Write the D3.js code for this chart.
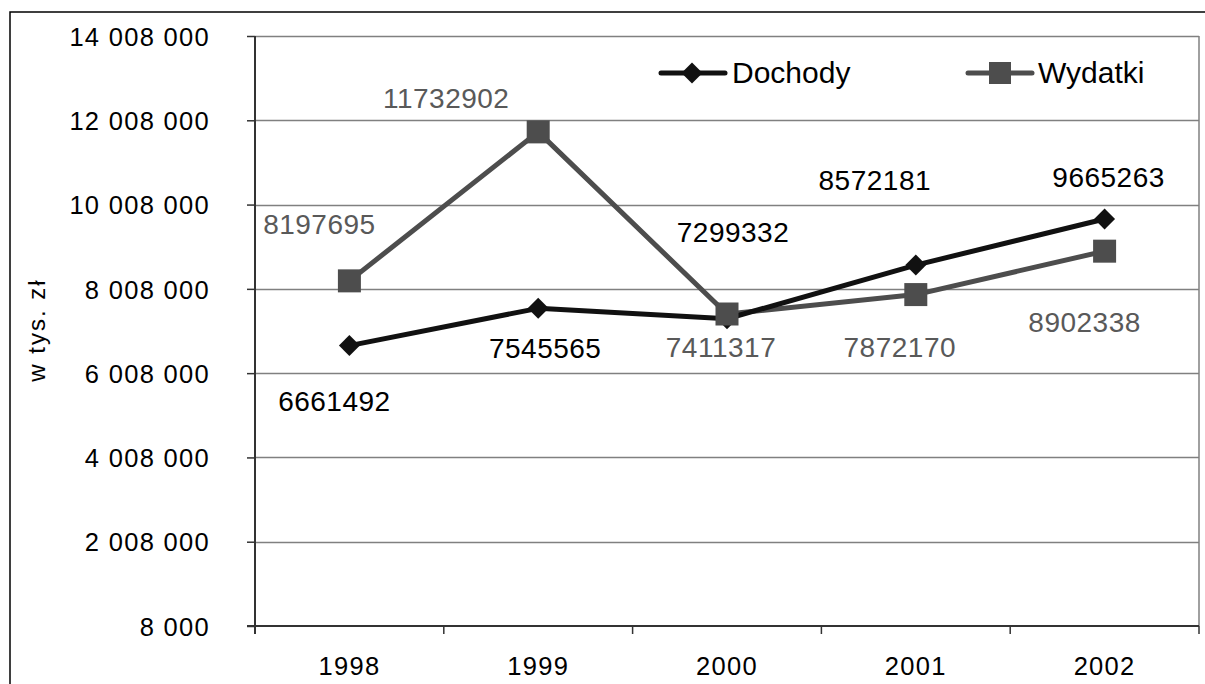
<!DOCTYPE html>
<html><head><meta charset="utf-8">
<script src="https://cdn.jsdelivr.net/npm/d3@7"></script>
<style>
body{margin:0;background:#fff;}
svg text{font-family:"Liberation Sans",Arial,sans-serif;}
</style></head>
<body><svg id="c" width="1205" height="684"></svg>
<script>
const years = ["1998","1999","2000","2001","2002"];
const dochody = [6661492, 7545565, 7299332, 8572181, 9665263];
const wydatki = [8197695, 11732902, 7411317, 7872170, 8902338];
const yTicks = [8000, 2008000, 4008000, 6008000, 8008000, 10008000, 12008000, 14008000];
const seriesNames = ["Dochody", "Wydatki"];
const yTitle = "w tys. zł";
// label placement offsets (layout only)
const dochOff = [[-15,55],[7,40],[6,-87],[-41,-85],[4,-42]];
const wydOff = [[-30,-57],[-92,-34],[-6,33],[-16,52],[-20,71]];

const svg = d3.select("#c");
const L=255, R=1199, T=36, B=626;
const x = d3.scaleBand().domain(years).range([L,R]).padding(0);
const y = d3.scaleLinear().domain([8000,14008000]).range([B,T]);
const fmt = v => d3.format(",")(v).replace(/,/g," ");

svg.append("rect").attr("x",10).attr("y",12).attr("width",1200).attr("height",680)
  .attr("fill","none").attr("stroke","#000").attr("stroke-width",1.5);

// gridlines
svg.append("g").selectAll("line").data(yTicks.slice(1)).join("line")
  .attr("x1",L).attr("x2",R).attr("y1",d=>Math.round(y(d))+0.5).attr("y2",d=>Math.round(y(d))+0.5)
  .attr("stroke","#808080").attr("stroke-width",1.3);
svg.append("line").attr("x1",R).attr("x2",R).attr("y1",T).attr("y2",B).attr("stroke","#808080").attr("stroke-width",1.5);

// y axis
const ya = svg.append("g").attr("transform",`translate(${L},0)`)
  .call(d3.axisLeft(y).tickValues(yTicks).tickFormat(fmt).tickSize(8).tickPadding(37));
ya.select(".domain").remove();
ya.selectAll(".tick line").attr("stroke","#333").attr("stroke-width",1.5);
ya.selectAll(".tick text").attr("font-size",25.5).attr("fill","#000")
  .attr("letter-spacing","1.3px").attr("dy","0.36em");
svg.append("line").attr("x1",L).attr("x2",L).attr("y1",T).attr("y2",B+8).attr("stroke","#333").attr("stroke-width",2);

// x axis
const xa = svg.append("g").attr("transform",`translate(0,${B})`)
  .call(d3.axisBottom(x).tickSize(0).tickPadding(31));
xa.select(".domain").remove();
xa.selectAll(".tick text").attr("font-size",25.5).attr("fill","#000").attr("letter-spacing","1.3px");
svg.append("line").attr("x1",L-8).attr("x2",R).attr("y1",B).attr("y2",B).attr("stroke","#333").attr("stroke-width",2);
svg.append("g").selectAll("line").data(years).join("line")
  .attr("x1",d=>x(d)+x.bandwidth()).attr("x2",d=>x(d)+x.bandwidth())
  .attr("y1",B).attr("y2",B+8).attr("stroke","#333").attr("stroke-width",1.5);

// y title
svg.append("text").attr("transform","translate(36,330) rotate(-90)").attr("text-anchor","middle")
  .attr("dy","0.36em").attr("font-size",24).attr("letter-spacing","2px").attr("fill","#000").text(yTitle);

const cx = d => x(d)+x.bandwidth()/2;
const lineGen = d3.line().x((d,i)=>cx(years[i])).y(d=>y(d));
const blackC="#111", grayC="#4d4d4d", grayT="#595959";

svg.append("path").datum(wydatki).attr("d",lineGen).attr("fill","none")
  .attr("stroke",grayC).attr("stroke-width",5).attr("stroke-linejoin","round");
svg.append("path").datum(dochody).attr("d",lineGen).attr("fill","none")
  .attr("stroke",blackC).attr("stroke-width",5).attr("stroke-linejoin","round");
const diamond = d3.symbol().type(d3.symbolDiamond2).size(280);
svg.append("g").selectAll("path").data(dochody).join("path")
  .attr("transform",(d,i)=>`translate(${cx(years[i])},${y(d)})`).attr("d",diamond()).attr("fill",blackC);
svg.append("g").selectAll("rect").data(wydatki).join("rect")
  .attr("x",(d,i)=>cx(years[i])-11.5).attr("y",d=>y(d)-11.5).attr("width",23).attr("height",23).attr("fill",grayC);

function labels(vals, off, col){
  svg.append("g").selectAll("text").data(vals).join("text")
    .attr("x",(d,i)=>cx(years[i])+off[i][0]).attr("y",(d,i)=>y(d)+off[i][1])
    .attr("text-anchor","middle").attr("dy","0.36em").attr("font-size",28)
    .attr("letter-spacing","0.5px").attr("fill",col).text(d=>d);
}
labels(dochody, dochOff, "#000");
labels(wydatki, wydOff, grayT);

// legend
const lg = svg.append("g");
lg.append("line").attr("x1",661).attr("x2",725).attr("y1",73).attr("y2",73).attr("stroke",blackC).attr("stroke-width",5).attr("stroke-linecap","round");
lg.append("path").attr("transform","translate(692,73)").attr("d",diamond()).attr("fill",blackC);
lg.append("text").attr("x",732).attr("y",83).attr("font-size",30).attr("fill","#000").text(seriesNames[0]);
lg.append("line").attr("x1",968).attr("x2",1032).attr("y1",73).attr("y2",73).attr("stroke",grayC).attr("stroke-width",5).attr("stroke-linecap","round");
lg.append("rect").attr("x",989).attr("y",62).attr("width",22).attr("height",22).attr("fill",grayC);
lg.append("text").attr("x",1038).attr("y",83).attr("font-size",30).attr("fill","#000").text(seriesNames[1]);
</script></body></html>
